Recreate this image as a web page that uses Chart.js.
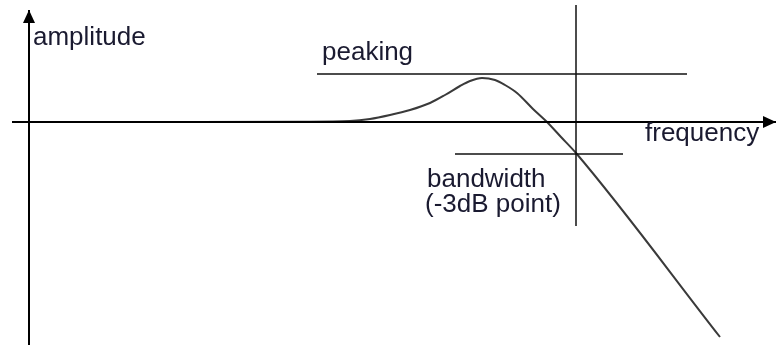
<!DOCTYPE html>
<html>
<head>
<meta charset="utf-8">
<script src="https://cdn.jsdelivr.net/npm/chart.js@4.4.1/dist/chart.umd.min.js"></script>
<style>
  html, body { margin: 0; padding: 0; background: #fff; }
  #wrap { width: 776px; height: 345px; }
</style>
</head>
<body>
<div id="wrap"><canvas id="c" width="776" height="345"></canvas></div>
<script>
// Frequency response sketch: flat, peaking, then roll-off through the -3dB point
// units: frequency runs right from the amplitude axis, amplitude up from the frequency axis

const responseFreq = [-17, 170, 270, 321, 341, 361, 381, 401, 416, 431, 441, 453, 466, 476, 488, 504, 518, 532, 547, 691];
const responseAmp  = [0, 0, 0.3, 1, 3, 7, 12, 19, 27, 36, 41, 44, 42, 37, 29, 13, 0, -15, -31, -215];

const freqAxis = [-17, 747];      // frequency axis extent (amp = 0)
const ampAxis = [-223, 112];      // amplitude axis extent (freq = 0)

const peakLevel = 48;             // "peaking" marker
const peakSpan = [288, 658];
const bandwidthFreq = 547;        // -3dB frequency, vertical marker
const bandwidthSpan = [-104, 117];
const cutoffLevel = -32;          // -3dB level
const cutoffSpan = [426, 594];

const labelTexts = ['amplitude', 'peaking', 'frequency', 'bandwidth', '(-3dB point)'];
const labelFreq  = [4, 293, 616, 398, 396];
const labelAmp   = [77, 62, -19, -65, -90];

const ink = '#111';

function seg(xs, ys) {
    return xs.map((x, i) => ({ x: x, y: ys[i] }));
}

const lineStyle = { showLine: true, pointRadius: 0, fill: false, tension: 0 };

// arrows and texts, placed through the scales
const annotate = {
    id: 'annotate',
    afterDatasetsDraw(chart) {
        const ctx = chart.ctx;
        const xs = chart.scales.x, ys = chart.scales.y;
        ctx.save();
        ctx.fillStyle = '#000';
        // frequency arrow
        let tx = xs.getPixelForValue(freqAxis[1]), ty = ys.getPixelForValue(0);
        ctx.beginPath();
        ctx.moveTo(tx, ty);
        ctx.lineTo(tx - 13, ty - 6);
        ctx.lineTo(tx - 13, ty + 6);
        ctx.closePath();
        ctx.fill();
        // amplitude arrow
        tx = xs.getPixelForValue(0); ty = ys.getPixelForValue(ampAxis[1]);
        ctx.beginPath();
        ctx.moveTo(tx, ty);
        ctx.lineTo(tx - 6, ty + 13);
        ctx.lineTo(tx + 6, ty + 13);
        ctx.closePath();
        ctx.fill();

        ctx.fillStyle = '#1a1a30';
        ctx.font = '26px "Liberation Sans", Arial, sans-serif';
        ctx.textBaseline = 'alphabetic';
        ctx.textAlign = 'left';
        labelTexts.forEach((t, i) => {
            ctx.fillText(t, xs.getPixelForValue(labelFreq[i]), ys.getPixelForValue(labelAmp[i]));
        });
        ctx.restore();
    }
};

new Chart(document.getElementById('c'), {
    type: 'scatter',
    data: {
        datasets: [
            { data: seg(freqAxis, [0, 0]), borderColor: '#000', borderWidth: 2, ...lineStyle },
            { data: seg([0, 0], ampAxis), borderColor: '#000', borderWidth: 2, ...lineStyle },
            { data: seg(peakSpan, [peakLevel, peakLevel]), borderColor: ink, borderWidth: 1.5, ...lineStyle },
            { data: seg([bandwidthFreq, bandwidthFreq], bandwidthSpan), borderColor: ink, borderWidth: 1.5, ...lineStyle },
            { data: seg(cutoffSpan, [cutoffLevel, cutoffLevel]), borderColor: ink, borderWidth: 1.5, ...lineStyle },
            {
                data: seg(responseFreq, responseAmp),
                borderColor: '#3a3a3a',
                borderWidth: 2,
                showLine: true,
                pointRadius: 0,
                fill: false,
                cubicInterpolationMode: 'monotone'
            }
        ]
    },
    options: {
        responsive: false,
        animation: false,
        events: [],
        layout: { padding: 0 },
        plugins: { legend: { display: false }, tooltip: { enabled: false } },
        scales: {
            x: { type: 'linear', min: -29, max: 747, display: false },
            y: { type: 'linear', min: -223, max: 122, display: false }
        }
    },
    plugins: [annotate]
});
</script>
</body>
</html>
